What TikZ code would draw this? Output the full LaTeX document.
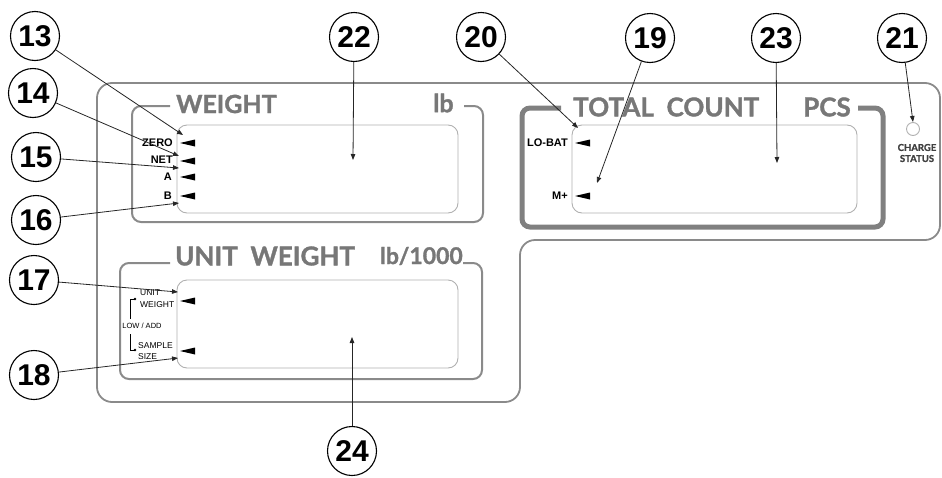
\documentclass[tikz,border=0pt]{standalone}
\usepackage{fontspec}
\setmainfont{Liberation Sans}
\newfontfamily\hdr{Lato}[BoldFeatures={FakeBold=1.3}]
\usetikzlibrary{arrows.meta}
\definecolor{panelgray}{HTML}{8A8A8A}
\definecolor{hdrgray}{HTML}{777777}
\definecolor{dispgray}{HTML}{B0B0B0}
\tikzset{
  num/.style={circle, draw=black, line width=1.1pt, minimum size=49pt, inner sep=0pt,
    font=\bfseries\fontsize{30}{30}\selectfont},
  callout/.style={draw=black!85, line width=0.8pt, -{Triangle[length=6pt,width=4.5pt]}},
  panel/.style={draw=panelgray, line width=1.8pt},
  boxline/.style={draw=panelgray, line width=2pt, rounded corners=9pt},
  tbox/.style={draw=black!50, line width=5pt, rounded corners=8pt},
  disp/.style={draw=dispgray, line width=0.9pt, rounded corners=10pt},
  hd/.style={font=\hdr\bfseries\fontsize{25}{25}\selectfont, text=hdrgray, inner sep=0pt, anchor=west},
  lab/.style={font=\bfseries\fontsize{11}{11}\selectfont, inner sep=0pt, anchor=east},
  slab/.style={font=\fontsize{8.5}{8.5}\selectfont, inner sep=0pt, anchor=west},
  pics/indtri/.style={code={\fill[black] (0,0) -- (15,-3.5) -- (15,3.5) -- cycle;}}
}
\begin{document}
\begin{tikzpicture}[x=1pt,y=-1pt]
\useasboundingbox (0,0) rectangle (942,477);
% outer panel
\draw[panel, rounded corners=15pt] (97,300) -- (97,83) -- (940,83) -- (940,240) -- (520,240) -- (520,402) -- (97,402) -- cycle;
% WEIGHT box
\draw[boxline] (170,106) -- (132,106) -- (132,222) -- (483,222) -- (483,106) -- (464,106);
\node[hd] (hw) at (176,104) {WEIGHT};
\node[hd] (hlb) at (433,103) {lb};
\draw[disp] (177,125) rectangle (458,213);
% UNIT WEIGHT box
\draw[boxline] (170,263) -- (120,263) -- (120,379) -- (482,379) -- (482,263) -- (463,263);
\node[hd, font=\hdr\bfseries\fontsize{26}{26}\selectfont] (huw) at (175,256) {UNIT\ \ WEIGHT};
\node[hd, font=\hdr\bfseries\fontsize{23}{23}\selectfont] (hlb2) at (380,256) {lb/1000};
\draw[disp] (177,280) rectangle (458,368);
% TOTAL COUNT box
\draw[tbox] (561,108) -- (522,108) -- (522,227) -- (883,227) -- (883,108) -- (858,108);
\node[hd, font=\hdr\bfseries\fontsize{26}{26}\selectfont] (htc) at (573,107) {TOTAL\ \ COUNT};
\node[hd, font=\hdr\bfseries\fontsize{26}{26}\selectfont] (hpcs) at (803,107) {PCS};
\draw[disp] (572,125) rectangle (857,213);
% charge status
\draw[draw=dispgray, line width=0.9pt] (913,129) circle (6.5pt);
\node[font=\hdr\bfseries\fontsize{9.5}{11}\selectfont, text=black!75, align=center, inner sep=0pt] (chg) at (917,153) {CHARGE\\STATUS};
% weight indicators
\node[lab] (lzero) at (173,143) {ZERO};
\node[lab] (lnet) at (173,160) {NET};
\node[lab] (la) at (172,177) {A};
\node[lab] (lb) at (172,196) {B};
\pic at (180,143) {indtri};
\pic at (180,161) {indtri};
\pic at (180,177) {indtri};
\pic at (180,196) {indtri};
% total count indicators
\node[lab] (llobat) at (568,143) {LO-BAT};
\node[lab] (lmplus) at (568,196) {M+};
\pic at (575,143) {indtri};
\pic at (575,196) {indtri};
% unit weight indicators
\node[slab] (lunit) at (140,293) {UNIT};
\node[slab] (lweight) at (140,305) {WEIGHT};
\node[font=\fontsize{7.5}{7.5}\selectfont, inner sep=0pt] (llow) at (142,326) {LOW / ADD};
\node[slab] (lsample) at (138,346) {SAMPLE};
\node[slab] (lsize) at (138,357) {SIZE};
\draw[line width=0.7pt] (135,299) -- (130,299) -- (130,319);
\draw[line width=0.7pt] (130,334) -- (130,350) -- (135,350);
\fill (135,299) circle (1.4pt);
\fill (135,350) circle (1.4pt);
\pic at (180,301) {indtri};
\pic at (180,351) {indtri};
% callout circles
\node[num] (c13) at (35,36) {13};
\node[num] (c14) at (33,93) {14};
\node[num] (c15) at (36,157) {15};
\node[num] (c16) at (36,220) {16};
\node[num] (c17) at (34,280) {17};
\node[num] (c18) at (34,375) {18};
\node[num] (c22) at (354,37) {22};
\node[num] (c20) at (481,37) {20};
\node[num] (c19) at (650,38) {19};
\node[num] (c23) at (776,38) {23};
\node[num] (c21) at (902,38) {21};
\node[num] (c24) at (352,451) {24};
% tips
\coordinate (t13) at (183,135);
\coordinate (t14) at (179,156);
\coordinate (t15) at (179,168);
\coordinate (t16) at (179,203);
\coordinate (t17) at (178,292);
\coordinate (t18) at (178,358);
\coordinate (t22) at (353,160);
\coordinate (t20) at (578,128);
\coordinate (t19) at (597,183);
\coordinate (t23) at (777,163);
\coordinate (t21) at (913,122);
\coordinate (t24) at (352,337);
\foreach \n in {13,14,15,16,17,18,22,20,19,23,21,24}{
  \draw[callout] (c\n) -- (t\n);
}
\end{tikzpicture}
\end{document}
